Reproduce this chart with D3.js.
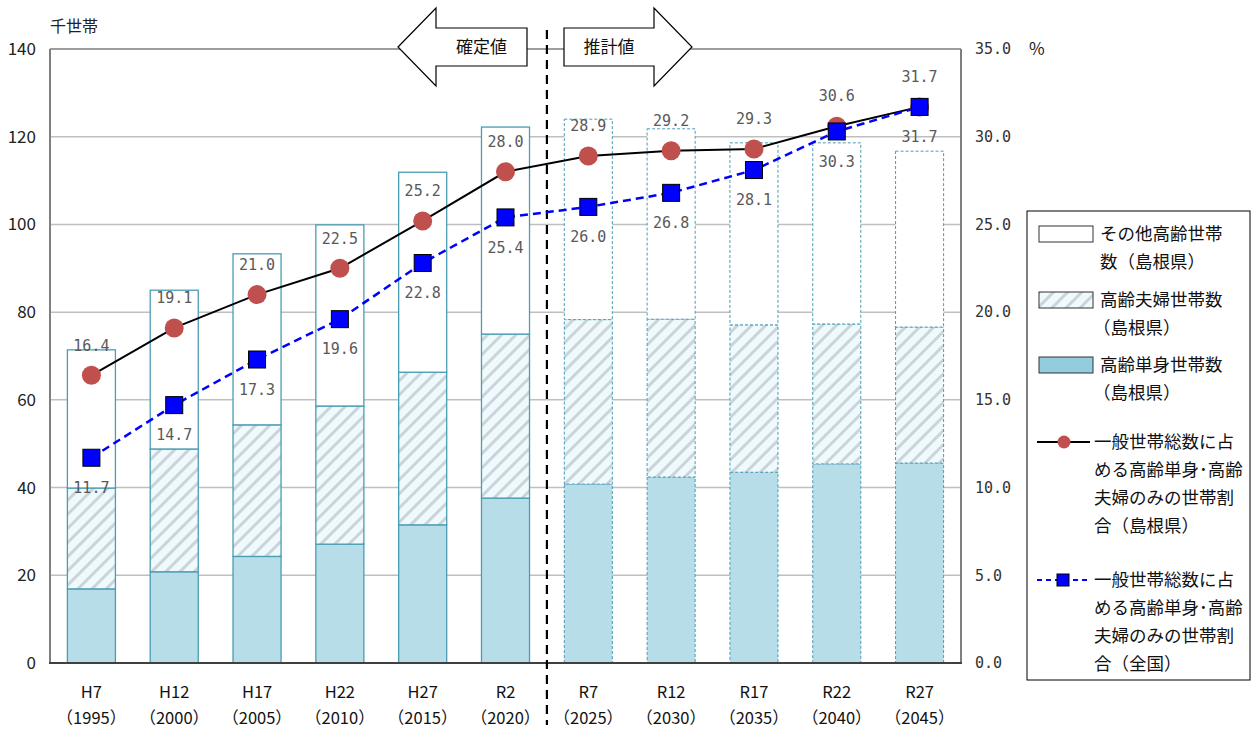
<!DOCTYPE html>
<html>
<head>
<meta charset="utf-8">
<script src="https://cdn.jsdelivr.net/npm/d3@7"></script>
<style>
  body { margin: 0; background: #fff; }
  text { font-family: "Noto Sans CJK JP", sans-serif; }
  .num { font-family: "DejaVu Sans Mono", monospace; }
</style>
</head>
<body>
<script>
var eras = ["H7", "H12", "H17", "H22", "H27", "R2", "R7", "R12", "R17", "R22", "R27"];
var years = ["1995", "2000", "2005", "2010", "2015", "2020", "2025", "2030", "2035", "2040", "2045"];
// 千世帯
var single = [16.9, 20.8, 24.3, 27.1, 31.5, 37.6, 40.8, 42.4, 43.5, 45.4, 45.6];
var couple = [23.0, 28.0, 30.0, 31.5, 34.8, 37.4, 37.5, 36.0, 33.6, 31.9, 31.0];
var other = [31.5, 36.2, 39.0, 41.3, 45.6, 47.2, 45.7, 43.4, 41.5, 41.3, 40.1];
// %
var shareShimane = [16.4, 19.1, 21.0, 22.5, 25.2, 28.0, 28.9, 29.2, 29.3, 30.6, 31.7];
var shareJapan = [11.7, 14.7, 17.3, 19.6, 22.8, 25.4, 26.0, 26.8, 28.1, 30.3, 31.7];
var leftTicks = [0, 20, 40, 60, 80, 100, 120, 140];
var rightTicks = [0, 5, 10, 15, 20, 25, 30, 35];
var actualCount = 6; // H7..R2 are 確定値

var margin = { left: 50, top: 49, right: 294, bottom: 66 };
var width = 1255 - margin.left - margin.right;
var height = 729 - margin.top - margin.bottom;

var svg = d3.select("body").append("svg")
    .attr("width", 1255)
    .attr("height", 729);

var defs = svg.append("defs");
var pat = defs.append("pattern")
    .attr("id", "hatch")
    .attr("patternUnits", "userSpaceOnUse")
    .attr("width", 10).attr("height", 10)
    .attr("patternTransform", "rotate(45)");
pat.append("rect").attr("width", 10).attr("height", 10).attr("fill", "#eefafb");
pat.append("rect").attr("x", 0).attr("width", 3).attr("height", 10).attr("fill", "#cdd3da");

var g = svg.append("g").attr("transform", `translate(${margin.left}, ${margin.top})`);

var x = d3.scaleBand().domain(eras).range([0, width]).paddingInner(0.42).paddingOuter(0.21);
var yL = d3.scaleLinear().domain([0, 140]).range([height, 0]);
var yR = d3.scaleLinear().domain([0, 35]).range([height, 0]);

// grid
g.selectAll(".grid").data(leftTicks.slice(1)).enter().append("line")
    .attr("x1", 0).attr("x2", width)
    .attr("y1", d => yL(d)).attr("y2", d => yL(d))
    .attr("stroke", "#bfbfbf").attr("stroke-width", 1.5);

// stacked bars
var rows = eras.map((e, i) => ({ era: e, i: i, s: single[i], c: couple[i], o: other[i] }));
var segs = [];
rows.forEach(r => {
    segs.push({ era: r.era, i: r.i, y0: 0, y1: r.s, fill: "#b7dde8" });
    segs.push({ era: r.era, i: r.i, y0: r.s, y1: r.s + r.c, fill: "url(#hatch)" });
    segs.push({ era: r.era, i: r.i, y0: r.s + r.c, y1: r.s + r.c + r.o, fill: "#ffffff" });
});
g.selectAll(".seg").data(segs).enter().append("rect")
    .attr("x", d => x(d.era))
    .attr("y", d => yL(d.y1))
    .attr("width", x.bandwidth())
    .attr("height", d => yL(d.y0) - yL(d.y1))
    .attr("fill", d => d.fill)
    .attr("stroke", "#4a9db3")
    .attr("stroke-width", d => d.i < actualCount ? 1.3 : 1)
    .attr("stroke-dasharray", d => d.i < actualCount ? null : "3,2");

// axes frame
g.append("line").attr("x1", 0).attr("x2", width).attr("y1", 0).attr("y2", 0)
    .attr("stroke", "#8c8c8c").attr("stroke-width", 1.5);
g.append("line").attr("x1", 0).attr("x2", 0).attr("y1", 0).attr("y2", height)
    .attr("stroke", "#7f7f7f").attr("stroke-width", 2);
g.append("line").attr("x1", width).attr("x2", width).attr("y1", 0).attr("y2", height)
    .attr("stroke", "#7f7f7f").attr("stroke-width", 2);
g.append("line").attr("x1", -1).attr("x2", width + 1).attr("y1", height).attr("y2", height)
    .attr("stroke", "#404040").attr("stroke-width", 2);

// left tick labels
g.selectAll(".lt").data(leftTicks).enter().append("text")
    .attr("x", -14).attr("y", d => yL(d)).attr("dy", "0.35em")
    .attr("text-anchor", "end").attr("font-size", 17).attr("fill", "#222")
    .text(d => d);
g.append("text").attr("x", 0).attr("y", -17).attr("font-size", 16).attr("fill", "#222").text("千世帯");

// right tick labels
g.selectAll(".rt").data(rightTicks).enter().append("text")
    .attr("class", "num")
    .attr("x", width + 14).attr("y", d => yR(d)).attr("dy", "0.35em")
    .attr("font-size", 15).attr("fill", "#333")
    .text(d => d3.format(".1f")(d));
g.append("text").attr("x", width + 68).attr("y", 0).attr("dy", "0.35em")
    .attr("font-size", 17).attr("fill", "#222").text("%");

// x labels
var cx = d => x(d) + x.bandwidth() / 2;
g.selectAll(".xl1").data(eras).enter().append("text")
    .attr("x", d => cx(d)).attr("y", height + 29).attr("dy", "0.35em")
    .attr("text-anchor", "middle").attr("font-size", 16.5).attr("fill", "#111")
    .text(d => d);
g.selectAll(".xl2").data(eras).enter().append("text")
    .attr("x", d => cx(d)).attr("y", height + 55).attr("dy", "0.35em")
    .attr("text-anchor", "middle").attr("font-size", 16.5).attr("fill", "#111")
    .text((d, i) => "（" + years[i] + "）");

// divider between actual and projection
var divX = x(eras[actualCount]) - x.step() * x.paddingInner() / 2;
g.append("line")
    .attr("x1", divX).attr("x2", divX).attr("y1", -19).attr("y2", height + 62)
    .attr("stroke", "#000").attr("stroke-width", 2.2).attr("stroke-dasharray", "9,6");

// lines
var lineS = d3.line().x((d, i) => cx(eras[i])).y(d => yR(d));
g.append("path").datum(shareShimane).attr("d", lineS)
    .attr("fill", "none").attr("stroke", "#000").attr("stroke-width", 2);
g.append("path").datum(shareJapan).attr("d", lineS)
    .attr("fill", "none").attr("stroke", "#0000ff").attr("stroke-width", 2.5)
    .attr("stroke-dasharray", "8,5");

g.selectAll(".dotS").data(shareShimane).enter().append("circle")
    .attr("cx", (d, i) => cx(eras[i])).attr("cy", d => yR(d)).attr("r", 9.5)
    .attr("fill", "#c0504d");
g.selectAll(".dotJ").data(shareJapan).enter().append("rect")
    .attr("x", (d, i) => cx(eras[i]) - 8.5).attr("y", d => yR(d) - 8.5)
    .attr("width", 17).attr("height", 17)
    .attr("fill", "#0000ff").attr("stroke", "#000").attr("stroke-width", 1);

// value labels
g.selectAll(".labS").data(shareShimane).enter().append("text")
    .attr("class", "num")
    .attr("x", (d, i) => cx(eras[i])).attr("y", d => yR(d) - 30).attr("dy", "0.35em")
    .attr("text-anchor", "middle").attr("font-size", 15).attr("fill", "#595959")
    .text(d => d3.format(".1f")(d));
g.selectAll(".labJ").data(shareJapan).enter().append("text")
    .attr("class", "num")
    .attr("x", (d, i) => cx(eras[i])).attr("y", d => yR(d) + 30).attr("dy", "0.35em")
    .attr("text-anchor", "middle").attr("font-size", 15).attr("fill", "#595959")
    .text(d => d3.format(".1f")(d));

// arrows
function arrow(x0, x1, dir, label) {
    var cy = 47, sh = 19, hh = 39, head = 38;
    var pts;
    if (dir < 0) {
        var tip = x0, base = x0 + head;
        pts = [[tip, cy], [base, cy - hh], [base, cy - sh], [x1, cy - sh], [x1, cy + sh], [base, cy + sh], [base, cy + hh]];
    } else {
        var tip2 = x1, base2 = x1 - head;
        pts = [[x0, cy - sh], [base2, cy - sh], [base2, cy - hh], [tip2, cy], [base2, cy + hh], [base2, cy + sh], [x0, cy + sh]];
    }
    svg.append("path").attr("d", d3.line()(pts) + "Z")
        .attr("fill", "#fff").attr("stroke", "#000").attr("stroke-width", 1.2);
    var tx = dir < 0 ? (x0 + head + x1) / 2 : (x0 + x1 - head) / 2;
    svg.append("text").attr("x", tx).attr("y", cy).attr("dy", "0.35em")
        .attr("text-anchor", "middle").attr("font-size", 17).attr("fill", "#111").text(label);
}
arrow(398, 527, -1, "確定値");
arrow(564, 692, 1, "推計値");

// legend
var lg = svg.append("g");
lg.append("rect").attr("x", 1027).attr("y", 211).attr("width", 223).attr("height", 469)
    .attr("fill", "#fff").attr("stroke", "#000").attr("stroke-width", 1);
var lx = 1039, lw = 54, tx = 1100;
var legendBars = [
    { fill: "#ffffff", y: 234, lines: ["その他高齢世帯", "数（島根県）"] },
    { fill: "url(#hatch)", y: 300, lines: ["高齢夫婦世帯数", "（島根県）"] },
    { fill: "#93cddd", y: 365, lines: ["高齢単身世帯数", "（島根県）"] }
];
legendBars.forEach(b => {
    lg.append("rect").attr("x", lx).attr("y", b.y - 8).attr("width", lw).attr("height", 16)
        .attr("fill", b.fill).attr("stroke", "#333").attr("stroke-width", 1);
    b.lines.forEach((t, k) => {
        lg.append("text").attr("x", tx - (t.startsWith("（") ? 7 : 0)).attr("y", b.y + k * 28).attr("dy", "0.35em")
            .attr("font-size", 17.5).attr("fill", "#111").text(t);
    });
});
var legLines = [
    { y: 442, lines: ["一般世帯総数に占", "める高齢単身･高齢", "夫婦のみの世帯割", "合（島根県）"], jp: false },
    { y: 580, lines: ["一般世帯総数に占", "める高齢単身･高齢", "夫婦のみの世帯割", "合（全国）"], jp: true }
];
legLines.forEach(l => {
    var ln = lg.append("line").attr("x1", 1037).attr("x2", 1090).attr("y1", l.y).attr("y2", l.y);
    if (l.jp) {
        ln.attr("stroke", "#0000ff").attr("stroke-width", 2.2).attr("stroke-dasharray", "5,4");
        lg.append("rect").attr("x", 1057).attr("y", l.y - 6).attr("width", 12).attr("height", 12)
            .attr("fill", "#0000ff").attr("stroke", "#000").attr("stroke-width", 1);
    } else {
        ln.attr("stroke", "#000").attr("stroke-width", 2);
        lg.append("circle").attr("cx", 1064).attr("cy", l.y).attr("r", 6.5).attr("fill", "#c0504d");
    }
    l.lines.forEach((t, k) => {
        lg.append("text").attr("x", 1094).attr("y", l.y + k * 28).attr("dy", "0.35em")
            .attr("font-size", 17.5).attr("fill", "#111").text(t);
    });
});
</script>
</body>
</html>
